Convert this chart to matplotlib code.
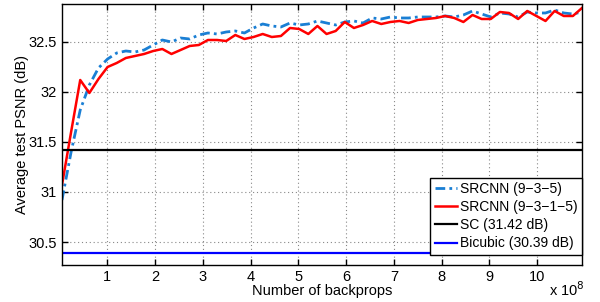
import numpy as np
import matplotlib
matplotlib.use("Agg")
import matplotlib.pyplot as plt

plt.rcParams['font.family'] = ['Liberation Sans', 'DejaVu Sans']

# x positions (units of 1e8 backprops)
backprops = np.linspace(0.05, 10.94, 58)

srcnn_935 = [30.92, 31.40, 31.82, 32.07, 32.24, 32.33, 32.39, 32.41, 32.40, 32.42,
             32.47, 32.52, 32.50, 32.54, 32.53, 32.57, 32.59, 32.58, 32.60, 32.61,
             32.59, 32.64, 32.68, 32.66, 32.65, 32.69, 32.67, 32.68, 32.71, 32.69,
             32.67, 32.70, 32.71, 32.69, 32.74, 32.73, 32.75, 32.74, 32.74, 32.75,
             32.75, 32.75, 32.76, 32.75, 32.77, 32.81, 32.78, 32.75, 32.79, 32.78,
             32.75, 32.80, 32.79, 32.79, 32.82, 32.79, 32.78, 32.80]

srcnn_9315 = [31.07, 31.60, 32.12, 31.99, 32.13, 32.25, 32.29, 32.34, 32.36, 32.38,
              32.41, 32.43, 32.38, 32.42, 32.46, 32.47, 32.52, 32.52, 32.51, 32.57,
              32.53, 32.55, 32.58, 32.55, 32.56, 32.64, 32.63, 32.58, 32.66, 32.58,
              32.61, 32.70, 32.64, 32.67, 32.71, 32.68, 32.70, 32.71, 32.69, 32.72,
              32.73, 32.74, 32.76, 32.74, 32.70, 32.77, 32.73, 32.73, 32.80, 32.79,
              32.73, 32.81, 32.76, 32.71, 32.81, 32.76, 32.76, 32.84]

sc_psnr = 31.42
bicubic_psnr = 30.39

labels = ["SRCNN (9\u22123\u22125)", "SRCNN (9\u22123\u22121\u22125)",
          "SC (31.42 dB)", "Bicubic (30.39 dB)"]
xticks = [1, 2, 3, 4, 5, 6, 7, 8, 9, 10]
yticks = [30.5, 31, 31.5, 32, 32.5]

fig = plt.figure(figsize=(6.0, 3.02), dpi=100)
ax = fig.add_axes([0.1033, 0.1225, 0.8667, 0.8643])

ax.plot(backprops, srcnn_935, linestyle='-.', color='#1a7fd4', lw=2.0, label=labels[0],
        dashes=(3.5, 1.5, 1, 1.5))
ax.plot(backprops, srcnn_9315, linestyle='-', color='#ff0000', lw=1.8, label=labels[1])
ax.axhline(sc_psnr, color='black', lw=1.6, label=labels[2])
ax.axhline(bicubic_psnr, color='#0000ff', lw=1.6, label=labels[3])

ax.set_xlim(backprops[0], backprops[-1])
ax.set_ylim(30.27, 32.88)
ax.set_xticks(xticks)
ax.set_xticklabels([str(t) for t in xticks])
ax.set_yticks(yticks)
ax.set_yticklabels(['30.5', '31', '31.5', '32', '32.5'])
ax.tick_params(direction='in', top=True, right=True, labelsize=10.5, length=4, width=1)
ax.grid(True, linestyle=(0, (1, 2.5)), color='#888888', lw=0.8)
for s in ax.spines.values():
    s.set_linewidth(1.0)

ax.set_xlabel("Number of backprops", fontsize=10.5, labelpad=0)
ax.set_ylabel("Average test PSNR (dB)", fontsize=10.5, labelpad=0)
fig.text(0.915, 0.01, r"x 10$^{8}$", fontsize=10.5, ha='left', va='bottom')

leg = ax.legend(loc='lower right', bbox_to_anchor=(1.0, 0.04), fontsize=10,
                frameon=True, fancybox=False, edgecolor='black', framealpha=1,
                borderpad=0.3, handlelength=1.6, handletextpad=0.25, labelspacing=0.3,
                borderaxespad=0)
leg.get_frame().set_linewidth(1.0)

fig.savefig("out.png", dpi=100)
